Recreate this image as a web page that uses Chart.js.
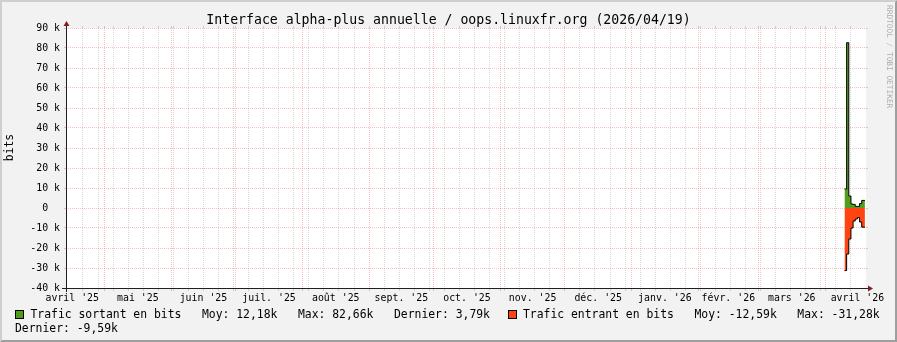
<!DOCTYPE html>
<html lang="fr">
<head>
<meta charset="utf-8">
<title>Interface alpha-plus annuelle</title>
<script src="https://cdn.jsdelivr.net/npm/chart.js"></script>
<style>
  body { margin: 0; background: #f2f2f2; }
  canvas { display: block; }
</style>
</head>
<body>
<canvas id="graphe" width="897" height="342"></canvas>
<script>
// abscisses en jours depuis le lundi 14/04/2025
var titre = "Interface alpha-plus annuelle / oops.linuxfr.org (2026/04/19)";
var uniteY = "bits";
var filigrane = "RRDTOOL / TOBI OETIKER";

var moisLabels = ["avril '25", "mai '25", "juin '25", "juil. '25", "août '25", "sept. '25", "oct. '25",
                  "nov. '25", "déc. '25", "janv. '26", "févr. '26", "mars '26", "avril '26"];
var moisDebut = [-13, 17, 48, 78, 109, 140, 170, 201, 231, 262, 293, 321, 352, 382];

var jours = [361, 362, 363, 364, 365, 366, 367, 368, 369];
var finDonnees = 370.5;
var sortant = [9500, 82660, 6000, 2000, 1800, 800, 800, 2200, 3790];
var entrant = [-31280, -23000, -15500, -10000, -6500, -5500, -4800, -7000, -9590];

var legendeSortant = ["Trafic sortant en bits", "Moy: 12,18k", "Max: 82,66k", "Dernier: 3,79k"];
var legendeEntrant = ["Trafic entrant en bits", "Moy: -12,59k", "Max: -31,28k", "Dernier: -9,59k"];

var vert = '#529c1c';
var rouge = '#ff4412';
var grilleMajeure = 'rgba(230,90,90,0.38)';
var grilleMineure = 'rgba(150,150,150,0.38)';
var mono = '"DejaVu Sans Mono", monospace';

var xMin = -0.9, xMax = 371;

function ticksX() {
    var t = {};
    function ajoute(v, genre) {
        if (!t[v]) t[v] = { value: v };
        t[v][genre] = true;
        return t[v];
    }
    for (var s = 7; s < xMax; s += 7) ajoute(s, 'mineur');
    moisDebut.forEach(function (v) { ajoute(v, 'majeur'); });
    moisLabels.forEach(function (l, i) {
        ajoute((moisDebut[i] + moisDebut[i + 1]) / 2, 'milieu').texte = l;
    });
    return Object.keys(t).map(function (k) { return t[k]; })
        .filter(function (k) { return k.value >= xMin && k.value <= xMax; })
        .sort(function (a, b) { return a.value - b.value; });
}

function ticksY() {
    var t = [];
    for (var v = -40000; v <= 90000; v += 5000) t.push({ value: v });
    return t;
}

function couleurX(c) {
    if (!c.tick) return 'rgba(0,0,0,0)';
    if (c.tick.majeur) return grilleMajeure;
    if (c.tick.mineur) return grilleMineure;
    return 'rgba(0,0,0,0)';
}
function couleurY(c) {
    if (!c.tick) return 'rgba(0,0,0,0)';
    return c.tick.value % 10000 === 0 ? grilleMajeure : grilleMineure;
}

function points(vals) {
    var p = jours.map(function (j, i) { return { x: j, y: vals[i] }; });
    p.push({ x: finDonnees, y: vals[vals.length - 1] });
    return p;
}

function aligne(p) { return Math.round(p - 0.5) + 0.5; }

var decor = {
    id: 'decor',
    beforeDraw: function (chart) {
        var ctx = chart.ctx, a = chart.chartArea, W = chart.width, H = chart.height;
        ctx.save();
        ctx.fillStyle = '#f2f2f2';
        ctx.fillRect(0, 0, W, H);
        ctx.fillStyle = '#cfcfcf';
        ctx.beginPath();
        ctx.moveTo(0, H); ctx.lineTo(2, H - 2); ctx.lineTo(2, 2); ctx.lineTo(W - 2, 2); ctx.lineTo(W, 0); ctx.lineTo(0, 0);
        ctx.closePath(); ctx.fill();
        ctx.fillStyle = '#9e9e9e';
        ctx.beginPath();
        ctx.moveTo(2, H - 2); ctx.lineTo(W - 2, H - 2); ctx.lineTo(W - 2, 2); ctx.lineTo(W, 0); ctx.lineTo(W, H); ctx.lineTo(0, H);
        ctx.closePath(); ctx.fill();
        ctx.fillStyle = '#ffffff';
        ctx.fillRect(a.left, a.top, a.right - a.left, a.bottom - a.top);
        ctx.restore();
    },
    afterDraw: function (chart) {
        var ctx = chart.ctx, a = chart.chartArea, W = chart.width;
        var sx = chart.scales.x, sy = chart.scales.y;
        ctx.save();
        ctx.lineWidth = 1;

        // petits traits de grille hors du cadre
        sy.ticks.forEach(function (t) {
            var p = aligne(sy.getPixelForValue(t.value));
            ctx.strokeStyle = couleurY({ tick: t });
            ctx.beginPath(); ctx.moveTo(a.right, p); ctx.lineTo(a.right + 2, p); ctx.stroke();
        });
        sx.ticks.forEach(function (t) {
            if (!t.majeur && !t.mineur) return;
            var p = aligne(sx.getPixelForValue(t.value));
            ctx.strokeStyle = couleurX({ tick: t });
            ctx.beginPath();
            ctx.moveTo(p, a.top - 2); ctx.lineTo(p, a.top);
            ctx.moveTo(p, a.bottom); ctx.lineTo(p, a.bottom + 3);
            ctx.stroke();
        });

        // axes
        ctx.strokeStyle = '#1f1f1f';
        ctx.beginPath();
        ctx.moveTo(a.left - 4, a.bottom + 0.5); ctx.lineTo(a.right + 4, a.bottom + 0.5);
        ctx.moveTo(a.left + 0.5, a.bottom + 4); ctx.lineTo(a.left + 0.5, a.top - 4);
        ctx.stroke();
        ctx.fillStyle = '#801f1f';
        ctx.beginPath();
        ctx.moveTo(a.right + 2, a.bottom - 2.5); ctx.lineTo(a.right + 2, a.bottom + 3.5); ctx.lineTo(a.right + 7, a.bottom + 0.5);
        ctx.closePath(); ctx.fill();
        ctx.beginPath();
        ctx.moveTo(a.left - 2.5, a.top - 2); ctx.lineTo(a.left + 3.5, a.top - 2); ctx.lineTo(a.left + 0.5, a.top - 7);
        ctx.closePath(); ctx.fill();

        // titre
        ctx.fillStyle = '#000';
        ctx.font = '13.2px ' + mono;
        ctx.textAlign = 'center';
        ctx.textBaseline = 'alphabetic';
        ctx.fillText(titre, W / 2, 24);

        // unité verticale
        ctx.save();
        ctx.font = '11.4px ' + mono;
        ctx.translate(10, 147.5);
        ctx.rotate(-Math.PI / 2);
        ctx.textBaseline = 'middle';
        ctx.fillText(uniteY, 0, 0);
        ctx.restore();

        // filigrane
        ctx.save();
        ctx.font = '7.8px ' + mono;
        ctx.fillStyle = 'rgba(0,0,0,0.3)';
        ctx.translate(W - 4, 5);
        ctx.rotate(Math.PI / 2);
        ctx.textAlign = 'left';
        ctx.textBaseline = 'top';
        ctx.fillText(filigrane, 0, 0);
        ctx.restore();

        // légende
        ctx.font = '11.4px ' + mono;
        ctx.textAlign = 'left';
        ctx.textBaseline = 'alphabetic';
        function boite(x, y, c) {
            ctx.fillStyle = c;
            ctx.fillRect(x, y, 9, 9);
            ctx.strokeStyle = '#000';
            ctx.strokeRect(x + 0.5, y + 0.5, 8, 8);
        }
        boite(15, 310, vert);
        ctx.fillStyle = '#000';
        ctx.fillText(legendeSortant.join('   '), 30.5, 318);
        boite(508, 310, rouge);
        ctx.fillStyle = '#000';
        ctx.fillText(legendeEntrant.slice(0, 3).join('   '), 523, 318);
        ctx.fillText(legendeEntrant[3], 15, 332);
        ctx.restore();
    }
};

new Chart(document.getElementById('graphe'), {
    type: 'line',
    data: {
        datasets: [
            {
                label: legendeSortant[0],
                data: points(sortant),
                stepped: 'before',
                fill: 'origin',
                backgroundColor: vert,
                borderColor: '#000',
                borderWidth: 1,
                pointRadius: 0
            },
            {
                label: legendeEntrant[0],
                data: points(entrant),
                stepped: 'before',
                fill: 'origin',
                backgroundColor: rouge,
                borderColor: '#000',
                borderWidth: 1,
                pointRadius: 0
            }
        ]
    },
    options: {
        responsive: false,
        animation: false,
        devicePixelRatio: 1,
        layout: { padding: { top: 28, right: 31, bottom: 34, left: 0 } },
        plugins: {
            legend: { display: false },
            title: { display: false },
            tooltip: { enabled: false }
        },
        scales: {
            x: {
                type: 'linear',
                min: xMin,
                max: xMax,
                afterBuildTicks: function (s) { s.ticks = ticksX(); },
                afterFit: function (s) { s.height = 20; },
                ticks: {
                    autoSkip: false,
                    maxRotation: 0,
                    minRotation: 0,
                    padding: 4,
                    color: '#000',
                    font: { family: mono, size: 9.9 },
                    callback: function (v, i, t) { return t[i].texte || ''; }
                },
                grid: { drawTicks: false, lineWidth: 1, color: couleurX },
                border: { display: false, dash: [1, 1] }
            },
            y: {
                min: -40000,
                max: 90000,
                afterBuildTicks: function (s) { s.ticks = ticksY(); },
                afterFit: function (s) { s.width = 66; },
                ticks: {
                    padding: 4,
                    color: '#000',
                    font: { family: mono, size: 9.9 },
                    callback: function (v) {
                        if (v % 10000 !== 0) return '';
                        return v === 0 ? '0  ' : (v / 1000) + ' k';
                    }
                },
                grid: { drawTicks: true, tickLength: 2, lineWidth: 1, color: couleurY, tickColor: couleurY },
                border: { display: false, dash: [1, 1] }
            }
        }
    },
    plugins: [decor]
});
</script>
</body>
</html>
